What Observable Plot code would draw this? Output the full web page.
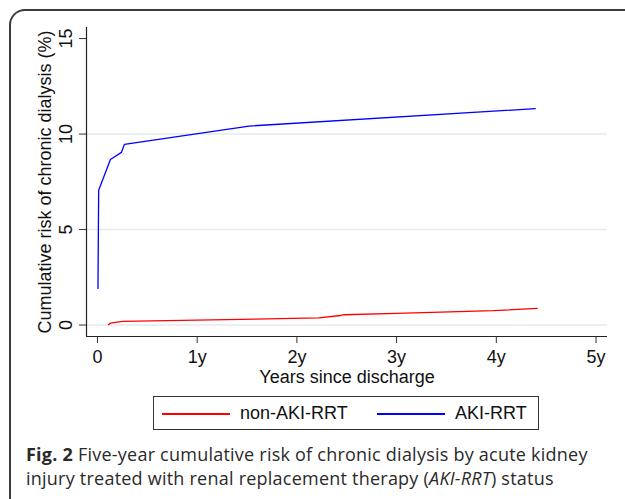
<!DOCTYPE html>
<html>
<head>
<meta charset="utf-8">
<script src="https://cdn.jsdelivr.net/npm/d3@7"></script>
<script src="https://cdn.jsdelivr.net/npm/@observablehq/plot@0.6"></script>
<style>
  html, body { margin: 0; padding: 0; background: #fff; }
  body { width: 625px; height: 499px; position: relative; overflow: hidden; font-family: "Liberation Sans", Arial, sans-serif; }
  #chart { position: absolute; left: 0; top: 0; }
  #frame { position: absolute; left: 9px; top: 9px; width: 700px; height: 600px; border-left: 2px solid #3c3c3c; border-top: 2px solid #3c3c3c; border-top-left-radius: 16px; box-sizing: border-box; }
  #legend { position: absolute; left: 153px; top: 396px; width: 386px; height: 34px; border: 1px solid #333; box-sizing: border-box; font-size: 18px; color: #111; }
  #legend .sw { position: absolute; top: 16px; height: 1.5px; width: 68px; }
  #legend .lb { position: absolute; top: 6px; line-height: 20px; }
  #caption { position: absolute; left: 26px; top: 443px; width: 599px; font-family: "Open Sans", "Noto Sans", sans-serif; font-size: 18px; letter-spacing: 0.23px; line-height: 23.5px; color: #2a2a2a; white-space: nowrap; }
</style>
</head>
<body>
<div id="chart"></div>
<div id="frame"></div>
<div id="legend"></div>
<div id="caption"><b>Fig. 2</b> Five-year cumulative risk of chronic dialysis by acute kidney<br>injury treated with renal replacement therapy (<i>AKI-RRT</i>) status</div>
<script>
// Series
const seriesNames = ["non-AKI-RRT", "AKI-RRT"];
const seriesColors = ["#ff0000", "#0000ff"];

const yearsNonAKI = [0.11, 0.13, 0.25, 2.22, 2.44, 2.47, 3.0, 3.97, 4.41];
const riskNonAKI  = [0.02, 0.10, 0.19, 0.37, 0.50, 0.54, 0.61, 0.75, 0.87];

const yearsAKI = [0.005, 0.012, 0.13, 0.24, 0.27, 1.52, 4.39];
const riskAKI  = [1.92, 7.06, 8.67, 9.04, 9.46, 10.42, 11.33];

const xTicks = [0, 1, 2, 3, 4, 5];
const xTickLabels = ["0", "1y", "2y", "3y", "4y", "5y"];
const yTicks = [0, 5, 10, 15];
const yGrid = [0, 5, 10];

const xTitle = "Years since discharge";
const yTitle = "Cumulative risk of chronic dialysis (%)";

const data = [
  ...yearsNonAKI.map((t, i) => ({t, r: riskNonAKI[i], s: seriesNames[0]})),
  ...yearsAKI.map((t, i) => ({t, r: riskAKI[i], s: seriesNames[1]}))
];

const xDomain = [-0.11, 5.115];
const yDomain = [-0.6, 15.58];

const chart = Plot.plot({
  width: 625,
  height: 390,
  marginLeft: 86,
  marginRight: 18,
  marginTop: 27,
  marginBottom: 54,
  style: {fontFamily: "'Liberation Sans', Arial, sans-serif", fontSize: "18px", background: "transparent", color: "#111"},
  x: {domain: xDomain, axis: null},
  y: {domain: yDomain, axis: null},
  color: {domain: seriesNames, range: seriesColors},
  marks: [
    Plot.ruleY(yGrid, {stroke: "#e3ebee", strokeWidth: 1.6}),
    Plot.line(data, {x: "t", y: "r", z: "s", stroke: "s", strokeWidth: 1.3}),
    Plot.ruleX([xDomain[0]], {stroke: "#222", strokeWidth: 1.2}),
    Plot.ruleY([yDomain[0]], {stroke: "#222", strokeWidth: 1.2}),
    Plot.axisX({ticks: xTicks, tickSize: 7, tickPadding: 7, tickFormat: (d) => xTickLabels[xTicks.indexOf(d)], label: null, fontSize: 18, stroke: "#333"}),
    Plot.axisY({ticks: yTicks, tickSize: 7, tickFormat: () => "", label: null, stroke: "#333"}),
    Plot.text(yTicks, {x: xDomain[0], y: d => d, text: d => String(d), rotate: -90, textAnchor: "middle", lineAnchor: "bottom", dx: -15, fontSize: 18, fill: "#111"}),
    Plot.text([xTitle], {frameAnchor: "bottom", lineAnchor: "bottom", dy: 46, fontSize: 18, fill: "#111"}),
    Plot.text([yTitle], {frameAnchor: "left", rotate: -90, textAnchor: "middle", lineAnchor: "bottom", dx: -36, fontSize: 18, fill: "#111"})
  ]
});
document.getElementById("chart").appendChild(chart);

// Legend
const legend = document.getElementById("legend");
const swLeft = [8, 223];
const lbLeft = [86, 301];
seriesNames.forEach((name, i) => {
  const sw = document.createElement("div");
  sw.className = "sw";
  sw.style.left = swLeft[i] + "px";
  sw.style.background = seriesColors[i];
  legend.appendChild(sw);
  const lb = document.createElement("div");
  lb.className = "lb";
  lb.style.left = lbLeft[i] + "px";
  lb.textContent = name;
  legend.appendChild(lb);
});
</script>
</body>
</html>
